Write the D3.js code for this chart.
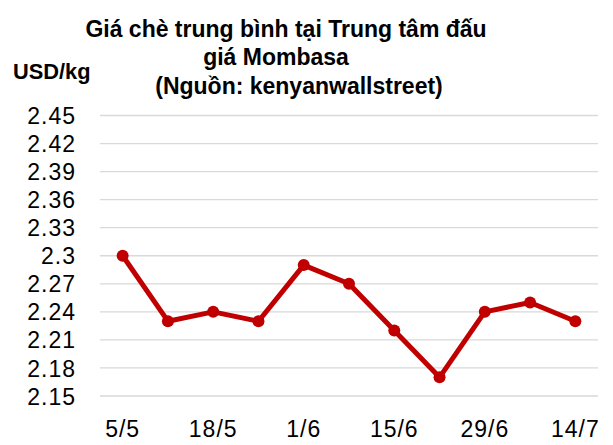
<!DOCTYPE html>
<html>
<head>
<meta charset="utf-8">
<script src="https://cdn.jsdelivr.net/npm/d3@7"></script>
<style>
  body { margin: 0; background: #fff; }
  text { font-family: "Liberation Sans", Arial, sans-serif; fill: #000; }
</style>
</head>
<body>
<div id="plot"></div>
<script>
// Data
var dates = ["5/5", "11/5", "18/5", "25/5", "1/6", "8/6", "15/6", "22/6", "29/6", "6/7", "14/7"];
var shownLabels = ["5/5", "18/5", "1/6", "15/6", "29/6", "14/7"];
var prices = [2.30, 2.23, 2.24, 2.23, 2.29, 2.27, 2.22, 2.17, 2.24, 2.25, 2.23];
var yTicks = [2.15, 2.18, 2.21, 2.24, 2.27, 2.3, 2.33, 2.36, 2.39, 2.42, 2.45];
var titleLines = ["Giá chè trung bình tại Trung tâm đấu", "giá Mombasa", "(Nguồn: kenyanwallstreet)"];

var width = 613, height = 445;
const margin = {top: 115.5, right: 15, bottom: 49, left: 100};
var plotW = width - margin.left - margin.right;
var plotH = height - margin.top - margin.bottom;

var svg = d3.select("#plot")
     .append("svg")
     .attr("width", width)
     .attr("height", height);

// Title
svg.append("text")
     .attr("text-anchor", "middle")
     .style("font-size", "23px")
     .style("font-weight", "bold")
     .selectAll("tspan")
     .data(titleLines)
     .enter()
     .append("tspan")
     .attr("x", function(d, i) { return [286, 276, 299][i]; })
     .attr("y", function(d, i) { return 37 + i * 28.3; })
     .text(function(d) { return d; });

// Unit label
svg.append("text")
     .attr("x", 13)
     .attr("y", 79)
     .style("font-size", "21.8px")
     .style("font-weight", "bold")
     .text("USD/kg");

var g = svg.append("g")
     .attr("transform", "translate(" + margin.left + "," + margin.top + ")");

var x = d3.scaleBand()
     .domain(dates)
     .range([0, plotW]);

var y = d3.scaleLinear()
     .domain([2.15, 2.45])
     .range([plotH, 0]);

// gridlines
g.selectAll(".grid")
     .data(yTicks)
     .enter()
     .append("line")
     .attr("class", "grid")
     .attr("x1", 0)
     .attr("x2", plotW)
     .attr("y1", function(d) { return y(d); })
     .attr("y2", function(d) { return y(d); })
     .attr("stroke", "#d9d9d9")
     .attr("stroke-width", 1.3);

// Y axis labels
var yAxis = g.append("g")
     .call(d3.axisLeft(y).tickValues(yTicks).tickSize(0).tickPadding(24)
          .tickFormat(function(d) { return String(+d.toFixed(2)); }));
yAxis.select(".domain").remove();
yAxis.selectAll("text")
     .style("font-size", "23px")
     .style("letter-spacing", "1px")
     .attr("dy", "0.35em");

// X axis labels
var xAxis = g.append("g")
     .attr("transform", "translate(0," + plotH + ")")
     .call(d3.axisBottom(x).tickSize(0).tickPadding(25)
          .tickFormat(function(d) { return shownLabels.indexOf(d) >= 0 ? d : ""; }));
xAxis.select(".domain").remove();
xAxis.selectAll("text")
     .style("font-size", "23px")
     .style("letter-spacing", "1px");

// Line
var line = d3.line()
     .x(function(d, i) { return x(dates[i]) + x.bandwidth() / 2; })
     .y(function(d) { return y(d); });

g.append("path")
     .datum(prices)
     .attr("d", line)
     .attr("fill", "none")
     .attr("stroke", "#c00000")
     .attr("stroke-width", 5)
     .attr("stroke-linejoin", "round");

g.selectAll(".dot")
     .data(prices)
     .enter()
     .append("circle")
     .attr("class", "dot")
     .attr("cx", function(d, i) { return x(dates[i]) + x.bandwidth() / 2; })
     .attr("cy", function(d) { return y(d); })
     .attr("r", 6)
     .attr("fill", "#c00000");
</script>
</body>
</html>
